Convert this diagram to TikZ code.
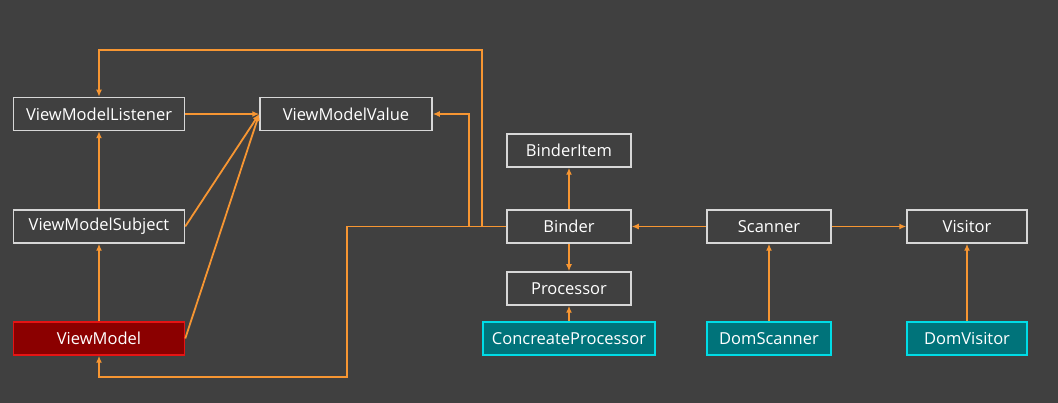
\documentclass[tikz,border=0pt]{standalone}
\usepackage{fontspec}
\setmainfont{Open Sans}
\usetikzlibrary{arrows.meta}
\definecolor{fond}{RGB}{64, 64, 64}
\definecolor{orangeline}{RGB}{247, 150, 50}
\definecolor{boxborder}{RGB}{215, 215, 215}
\definecolor{redfill}{RGB}{139, 0, 0}
\definecolor{redborder}{RGB}{230, 20, 20}
\definecolor{cyanfill}{RGB}{0, 115, 122}
\definecolor{cyanborder}{RGB}{0, 220, 230}
\tikzset{
    class box/.style={
        draw=boxborder,
        line width=1.5pt,
        text=white,
        minimum height=33pt,
        inner sep=0pt,
        font=\fontsize{16.5}{18}\selectfont
    }
}

\begin{document}
\begin{tikzpicture}[x=1pt, y=-1pt, >={Latex[length=7pt,width=6pt]}]

    \tikzstyle{plain} = [class box, fill=fond]
    \tikzstyle{main} = [class box, fill=redfill, draw=redborder]
    \tikzstyle{impl} = [class box, fill=cyanfill, draw=cyanborder]
    \tikzstyle{link} = [draw=orangeline, line width=1.8pt]

    % Fond
    \fill[fond] (0,0) rectangle (1058,403);
    \useasboundingbox (0,0) rectangle (1058,403);

    % Créer les nœuds
    \node[plain, minimum width=171pt] (listener) at (99,114) {ViewModelListener};
    \node[plain, minimum width=172pt] (value) at (346,114) {ViewModelValue};
    \node[plain, minimum width=171pt] (subject) at (99,226.5) {ViewModelSubject};
    \node[main, minimum width=171pt] (viewmodel) at (99,338.5) {ViewModel};

    \node[plain, minimum width=124pt] (binderitem) at (569,150.5) {BinderItem};
    \node[plain, minimum width=124pt] (binder) at (569,226.5) {Binder};
    \node[plain, minimum width=124pt] (processor) at (569,288.5) {Processor};
    \node[impl, minimum width=172pt] (concrete) at (569,338.5) {ConcreateProcessor};

    \node[plain, minimum width=124pt] (scanner) at (769,226.5) {Scanner};
    \node[impl, minimum width=124pt] (domscanner) at (769,338.5) {DomScanner};
    \node[plain, minimum width=120pt] (visitor) at (967,226.5) {Visitor};
    \node[impl, minimum width=120pt] (domvisitor) at (967,338.5) {DomVisitor};

    % Points de passage
    \coordinate (top) at (482,50);
    \coordinate (side) at (469,114);
    \coordinate (split) at (347,226.5);
    \coordinate (bottom) at (347,377);

    % Dessiner les flèches
    \draw[link, ->] (subject.north) -- (listener.south);
    \draw[link, ->] (viewmodel.north) -- (subject.south);
    \draw[link, ->] (listener.east) -- (value.west);
    \draw[link, ->] (subject.east) -- (value.west);
    \draw[link, ->] (viewmodel.east) -- (value.west);

    \draw[link, ->] (binder.north) -- (binderitem.south);
    \draw[link, ->] (binder.south) -- (processor.north);
    \draw[link, ->] (concrete.north) -- (processor.south);
    \draw[link, ->] (scanner.west) -- (binder.east);
    \draw[link, ->] (scanner.east) -- (visitor.west);
    \draw[link, ->] (domscanner.north) -- (scanner.south);
    \draw[link, ->] (domvisitor.north) -- (visitor.south);

    \draw[link, ->] (binder.west) -| (top) -| (listener.north);
    \draw[link, ->] (binder.west) -| (side) -- (value.east);
    \draw[link, ->] (binder.west) -- (split) -- (bottom) -| (viewmodel.south);

\end{tikzpicture}
\end{document}
